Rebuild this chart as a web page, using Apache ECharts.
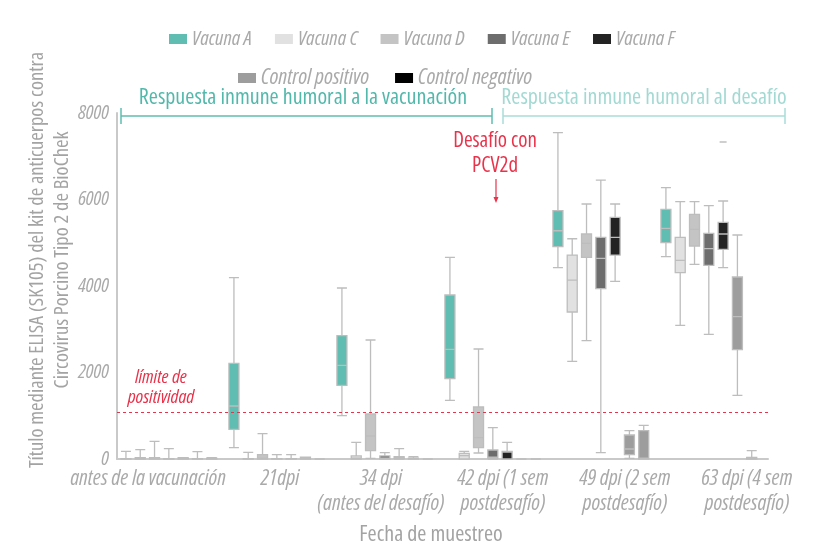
<!DOCTYPE html>
<html>
<head>
<meta charset="utf-8">
<script src="https://cdn.jsdelivr.net/npm/echarts@6/dist/echarts.min.js"></script>
<style>
  html, body { margin: 0; padding: 0; background: #fff; }
  #main { width: 814px; height: 556px; }
</style>
</head>
<body>
<div id="main"></div>
<script>
// categorías del eje x
var categorias = ['antes de la vacunación', '21dpi', '34 dpi\n(antes del desafío)',
  '42 dpi (1 sem\npostdesafío)', '49 dpi (2 sem\npostdesafío)', '63 dpi (4 sem\npostdesafío)'];
var nombres = ['Vacuna A', 'Vacuna C', 'Vacuna D', 'Vacuna E', 'Vacuna F', 'Control positivo', 'Control negativo'];
var yTicks = [0, 2000, 4000, 6000, 8000];
var limitePositividad = 1070;

// [min, Q1, mediana, Q3, max] por fecha
var vacunaA = [[0, 0, 0, 10, 175], [262, 687, 1225, 2213, 4192], [1002, 1703, 2166, 2851, 3954],
  [1357, 1857, 2536, 3792, 4663], [4423, 4909, 5278, 5741, 7544], [4677, 5001, 5333, 5773, 6273]];
var vacunaC = [[0, 0, 10, 30, 215], [0, 0, 0, 10, 155], [0, 0, 20, 70, 386],
  [0, 0, 80, 132, 178], [2258, 3399, 4138, 4716, 5093], [3091, 4308, 4594, 5125, 5949]];
var vacunaD = [[0, 0, 10, 30, 407], [0, 0, 20, 100, 585], [16, 193, 532, 1040, 2751],
  [139, 262, 493, 1202, 2543], [2735, 4663, 4986, 5202, 5896], [4501, 4925, 5310, 5657, 5949]];
var vacunaE = [[0, 0, 0, 10, 238], [0, 0, 0, 10, 100], [0, 0, 20, 70, 146],
  [0, 16, 40, 208, 724], [146, 3937, 4640, 5125, 6450], [2883, 4478, 4862, 5218, 5857]];
var vacunaF = [[0, 0, 10, 30, 30], [0, 0, 0, 10, 100], [0, 10, 30, 53, 238],
  [0, 0, 160, 177, 385], [4108, 4716, 5125, 5588, 5896], [4423, 4848, 5202, 5472, 5965]];
var controlPositivo = [[0, 0, 0, 10, 170], [0, 0, 10, 40, 40], [0, 0, 10, 20, 53],
  [0, 0, 0, 0, 0], [16, 100, 231, 555, 655], [1472, 2527, 3290, 4208, 5179]];
var controlNegativo = [[0, 0, 10, 20, 30], [0, 0, 0, 0, 0], [0, 0, 0, 0, 0],
  [0, 0, 0, 0, 0], [0, 0, 20, 655, 779], [0, 0, 10, 39, 192]];
// valor atípico de Vacuna F a 63 dpi: [fecha, valor]
var atipicosF = [[5, 7330]];

var datos = [vacunaA, vacunaC, vacunaD, vacunaE, vacunaF, controlPositivo, controlNegativo];
var colores = ['#5fbdb1', '#e1e1e1', '#c4c4c4', '#6d6d6d', '#232323', '#9d9d9d', '#9d9d9d'];
var coloresLeyenda = ['#5fbdb1', '#e1e1e1', '#c4c4c4', '#6d6d6d', '#232323', '#9d9d9d', '#000000'];

var FONT = "'Open Sans'";
var ANCHO = 'condensed';   // font-stretch, va en fontWeight
var gris = '#a9a9a9';
var rojo = '#e8334b';
var paso = 14.3 / 108;  // separación entre cajas dentro de cada fecha

var myChart = echarts.init(document.getElementById('main'));

var xAxes = [];
var series = [];
nombres.forEach(function (n, i) {
  xAxes.push({
    type: 'value', gridIndex: 0, min: -0.48, max: 5.548, show: i === 0,
    axisLine: { show: true, onZero: false, lineStyle: { color: '#c9c9c9', width: 2 } },
    axisTick: { show: false }, axisLabel: { show: false }, splitLine: { show: false }
  });
  var s = {
    type: 'boxplot', name: n, xAxisIndex: i, yAxisIndex: 0,
    boxWidth: [10, 10],
    data: datos[i].map(function (v, g) { return [g + (i - 3) * paso].concat(v); }),
    itemStyle: { color: colores[i], borderColor: '#bdbdbd', borderWidth: 1.3 },
    emphasis: { disabled: true }
  };
  if (i === 0) {
    s.markLine = {
      silent: true, symbol: 'none', label: { show: false },
      lineStyle: { color: rojo, type: [3, 3], width: 1 },
      data: [{ yAxis: limitePositividad }]
    };
  }
  series.push(s);
});
series.push({
  type: 'scatter', name: 'atipico', xAxisIndex: 4, yAxisIndex: 0,
  symbol: 'rect', symbolSize: [7, 2],
  itemStyle: { color: '#c3c3c3' },
  data: atipicosF.map(function (p) { return [p[0] + (4 - 3) * paso, p[1]]; })
});

// eje de etiquetas (solo texto)
var desplaza = [22, 42, 0, 0, 0, 0];
var estiloEtiqueta = { fontStyle: 'italic', fontWeight: ANCHO, fontSize: 21.5, color: gris, fontFamily: FONT };
xAxes.push({
  type: 'category', gridIndex: 1, data: categorias,
  axisLine: { show: false }, axisTick: { show: false },
  axisLabel: Object.assign({
    interval: 0, margin: 7, lineHeight: 25,
    formatter: function (v, idx) {
      return desplaza[idx] ? '{s' + idx + '|' + v + '}' : v;
    },
    rich: {
      s0: Object.assign({ padding: [0, 0, 0, desplaza[0]] }, estiloEtiqueta),
      s1: Object.assign({ padding: [0, 0, 0, desplaza[1]] }, estiloEtiqueta)
    }
  }, estiloEtiqueta)
});

function textoLeyenda(tam) {
  return { color: gris, fontStyle: 'italic', fontWeight: ANCHO, fontFamily: FONT, fontSize: tam, lineHeight: 22 };
}
var leyendaBase = {
  icon: 'rect', itemWidth: 18, itemHeight: 10, padding: 0,
  itemStyle: { borderWidth: 0 }
};

function fuente(tam, estilo) {
  return (estilo || '') + ' ' + ANCHO + ' ' + tam + 'px ' + FONT;
}

var option = {
  animation: false,
  grid: [
    { left: 117, top: 113, width: 651, height: 346 },
    { left: 76, top: 113, width: 732, height: 346 }
  ],
  legend: [
    Object.assign({}, leyendaBase, {
      left: 169, top: 28, itemGap: 23, textStyle: textoLeyenda(20.5),
      data: nombres.slice(0, 5).map(function (n, i) { return { name: n, itemStyle: { color: coloresLeyenda[i] } }; })
    }),
    Object.assign({}, leyendaBase, {
      left: 238, top: 67, itemGap: 26, textStyle: textoLeyenda(22),
      data: nombres.slice(5).map(function (n, i) { return { name: n, itemStyle: { color: coloresLeyenda[i + 5] } }; })
    })
  ],
  xAxis: xAxes,
  yAxis: [
    {
      type: 'value', gridIndex: 0, min: yTicks[0], max: yTicks[yTicks.length - 1], interval: 2000,
      axisLine: { show: true, onZero: false, lineStyle: { color: '#c9c9c9', width: 2 } },
      axisTick: { show: false }, splitLine: { show: false },
      axisLabel: { color: gris, fontStyle: 'italic', fontWeight: ANCHO, fontFamily: FONT, fontSize: 20, margin: 8,
        formatter: function (v) { return String(v); } }
    },
    { type: 'value', gridIndex: 1, show: false }
  ],
  graphic: [
    // título eje y
    { type: 'text', x: 50, y: 260, rotation: Math.PI / 2,
      style: { text: 'Título mediante ELISA (SK105) del kit de anticuerpos contra\nCircovirus Porcino Tipo 2 de BioChek',
        fill: '#a3a3a3', font: fuente(20.5), lineHeight: 25, align: 'center', verticalAlign: 'middle' } },
    // título eje x
    { type: 'text', x: 431, y: 535,
      style: { text: 'Fecha de muestreo', fill: '#a3a3a3', font: fuente(22), align: 'center', verticalAlign: 'middle' } },
    // llaves de fases
    { type: 'polyline', shape: { points: [[121, 108], [121, 124], [121, 116], [492, 116], [492, 108], [492, 124]] },
      style: { stroke: '#5fbdb1', lineWidth: 1.5, fill: null } },
    { type: 'text', x: 303, y: 98,
      style: { text: 'Respuesta inmune humoral a la vacunación', fill: '#52b8ab', font: fuente(22), align: 'center', verticalAlign: 'middle' } },
    { type: 'polyline', shape: { points: [[503, 108], [503, 124], [503, 116], [785, 116], [785, 108], [785, 124]] },
      style: { stroke: '#a9ddd7', lineWidth: 1.5, fill: null } },
    { type: 'text', x: 644, y: 98,
      style: { text: 'Respuesta inmune humoral al desafío', fill: '#a3d9d3', font: fuente(22), align: 'center', verticalAlign: 'middle' } },
    // desafío
    { type: 'text', x: 495, y: 154,
      style: { text: 'Desafío con\nPCV2d', fill: rojo, font: fuente(21), lineHeight: 25, align: 'center', verticalAlign: 'middle' } },
    { type: 'line', shape: { x1: 496, y1: 179, x2: 496, y2: 199 }, style: { stroke: rojo, lineWidth: 1.2 } },
    { type: 'polygon', shape: { points: [[493.5, 197], [498.5, 197], [496, 203]] }, style: { fill: rojo } },
    // límite
    { type: 'text', x: 161, y: 388,
      style: { text: 'límite de\npositividad', fill: rojo, font: fuente(19, 'italic'), lineHeight: 20, align: 'center', verticalAlign: 'middle' } }
  ],
  series: series
};

myChart.setOption(option);
</script>
</body>
</html>
